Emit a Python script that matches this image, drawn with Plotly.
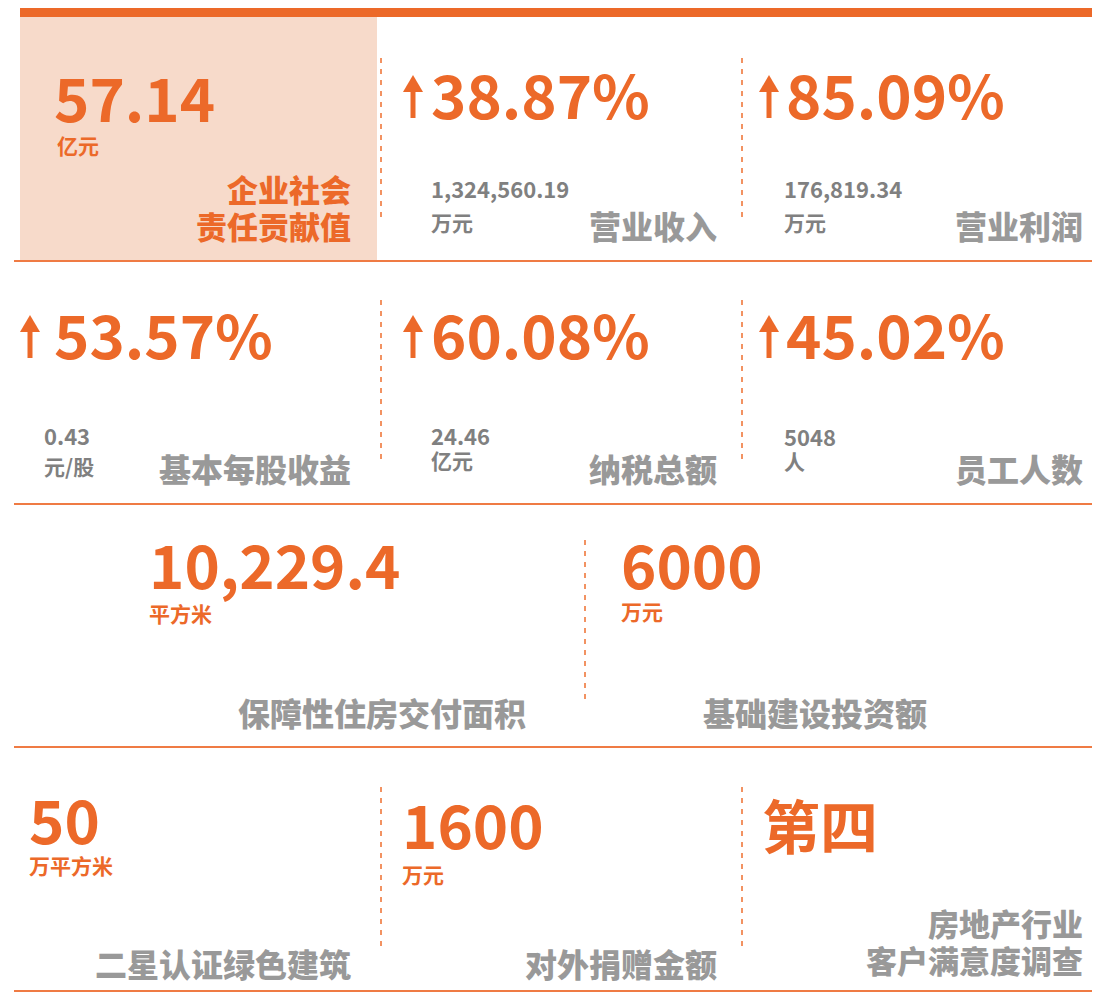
import plotly.graph_objects as go

# ---------------- data ----------------
headline_values = ["57.14", "38.87%", "85.09%", "53.57%", "60.08%", "45.02%",
                   "10,229.4", "6000", "50", "1600", "第四"]
headline_units = ["亿元", "", "", "", "", "", "平方米", "万元", "万平方米", "万元", ""]
is_growth = [False, True, True, True, True, True, False, False, False, False, False]
detail_values = ["", "1,324,560.19", "176,819.34", "0.43", "24.46", "5048",
                 "", "", "", "", ""]
detail_units = ["", "万元", "万元", "元/股", "亿元", "人", "", "", "", "", ""]
labels = [["企业社会", "责任贡献值"], ["营业收入"], ["营业利润"], ["基本每股收益"], ["纳税总额"],
          ["员工人数"], ["保障性住房交付面积"], ["基础建设投资额"], ["二星认证绿色建筑"],
          ["对外捐赠金额"], ["房地产行业", "客户满意度调查"]]

# ---------------- layout (pixel positions of each cell's elements) ----------------
# (headline_x, headline_y, unit_y, detail_x, detail_y, dunit_y, label_right, label_y(first line), arrow_x)
cell_pos = [
    (55, 101, 145, None, None, None, 350, 188, None),
    (432, 98, None, 432, 188, 222, 716, 225, 413),
    (787, 98, None, 785, 188, 222, 1082, 225, 769),
    (55, 338, None, 45, 435, 466, 350, 468, 30),
    (432, 338, None, 432, 435, 460, 716, 468, 413),
    (787, 338, None, 785, 436, 461, 1082, 468, 769),
    (150, 568, 613, None, None, None, 525, 712, None),
    (622, 568, 611, None, None, None, 926, 712, None),
    (30, 823, 865, None, None, None, 350, 963, None),
    (403, 828, 874, None, None, None, 716, 963, None),
    (763, 830, None, None, None, None, 1082, 922, None),
]
unit_x_offset = [3, 0, 0, 0, 0, 0, 0, 0, 0, 0, 0]

ORANGE = "#EC6929"
PINK = "#F7DACA"
LINE = "#EF7B44"
DASH = "#F29262"
GRAY = "#999999"
DGRAY = "#808080"
FONT = "Noto Sans CJK SC"

W, H = 1100, 993
OFF = 8          # browser body margin
PAD = 3          # annotation inner padding
HEAD_DY = -6     # glyph-centre correction for large digits
LINE_GAP = 37

fig = go.Figure()
fig.add_trace(go.Scatter(x=[0], y=[0], mode="markers", marker=dict(opacity=0),
                         hoverinfo="skip", showlegend=False))

shapes = []
shapes.append(dict(type="rect", x0=20, x1=1100, y0=8, y1=17, fillcolor=ORANGE, line_width=0))
shapes.append(dict(type="rect", x0=20, x1=377, y0=17, y1=260, fillcolor=PINK, line_width=0))
for yy in [261, 504, 747, 991]:
    shapes.append(dict(type="line", x0=14, x1=1100, y0=yy, y1=yy, line=dict(color=LINE, width=2)))
vseps = [(381, 58, 220), (742, 58, 220), (381, 300, 465), (742, 300, 465),
         (585, 540, 700), (381, 787, 950), (742, 787, 950)]
for xx, ya, yb in vseps:
    shapes.append(dict(type="line", x0=xx, x1=xx, y0=ya, y1=yb,
                       line=dict(color=DASH, width=2, dash="5px,6px")))

ann = []
def T(x, y, text, size, color, anchor="left", weight=700):
    xx = x - PAD if anchor == "left" else x + PAD
    ann.append(dict(x=xx, y=y, xref="x", yref="y", text=text,
                    showarrow=False, xanchor=anchor, yanchor="middle", align=anchor,
                    font=dict(family=FONT, size=size, color=color, weight=weight)))

for i, (hx, hy, uy, dx, dy, duy, lr, ly, ax) in enumerate(cell_pos):
    T(hx, hy + HEAD_DY, headline_values[i], 60 if i != 10 else 58, ORANGE)
    if headline_units[i]:
        T(hx + unit_x_offset[i], uy, headline_units[i], 21, ORANGE)
    if detail_values[i]:
        T(dx, dy, detail_values[i], 22, DGRAY)
        T(dx, duy, detail_units[i], 21, DGRAY)
    for k, line_text in enumerate(labels[i]):
        T(lr, ly + k * LINE_GAP, line_text, 31 if len(labels[i]) > 1 else 32,
          ORANGE if i == 0 else GRAY, anchor="right", weight=900)
    if is_growth[i]:
        top, bot = hy - 23, hy + 20
        shapes.append(dict(type="line", x0=ax, x1=ax, y0=top + 12, y1=bot,
                           line=dict(color=ORANGE, width=5)))
        shapes.append(dict(type="path",
                           path="M %f %f L %f %f L %f %f Z" % (ax - 10, top + 17, ax, top, ax + 10, top + 17),
                           fillcolor=ORANGE, line_width=0))

fig.update_layout(
    width=W - OFF, height=H - OFF,
    margin=dict(l=0, r=0, t=0, b=0),
    paper_bgcolor="white", plot_bgcolor="white",
    xaxis=dict(range=[OFF, W], visible=False, fixedrange=True),
    yaxis=dict(range=[H, OFF], visible=False, fixedrange=True),
    shapes=shapes, annotations=ann, showlegend=False,
)
fig.write_html("out.html")
